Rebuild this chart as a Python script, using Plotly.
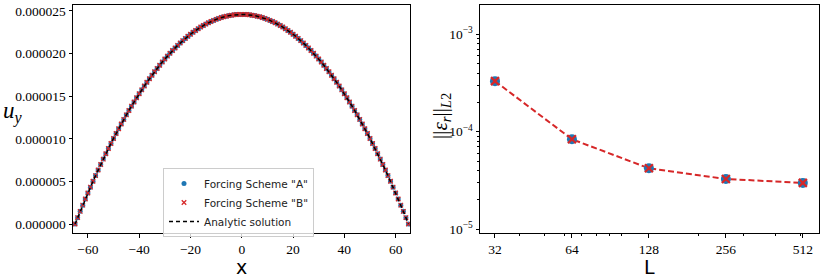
import plotly.graph_objects as go

# ---------------- Left panel data (velocity profile) ----------------
x_nodes = [-65, -64, -63, -62, -61, -60, -59, -58, -57, -56, -55, -54, -53, -52, -51, -50,
           -49, -48, -47, -46, -45, -44, -43, -42, -41, -40, -39, -38, -37, -36, -35, -34,
           -33, -32, -31, -30, -29, -28, -27, -26, -25, -24, -23, -22, -21, -20, -19, -18,
           -17, -16, -15, -14, -13, -12, -11, -10, -9, -8, -7, -6, -5, -4, -3, -2, -1, 0,
           1, 2, 3, 4, 5, 6, 7, 8, 9, 10, 11, 12, 13, 14, 15, 16, 17, 18, 19, 20, 21, 22,
           23, 24, 25, 26, 27, 28, 29, 30, 31, 32, 33, 34, 35, 36, 37, 38, 39, 40, 41, 42,
           43, 44, 45, 46, 47, 48, 49, 50, 51, 52, 53, 54, 55, 56, 57, 58, 59, 60, 61, 62,
           63, 64, 65]

# u_y values, in units of 1e-6
uy_micro = [0.0, 0.751, 1.491, 2.218, 2.934, 3.639, 4.332, 5.013, 5.683, 6.341, 6.987,
            7.622, 8.245, 8.856, 9.456, 10.044, 10.620, 11.185, 11.738, 12.280, 12.809,
            13.328, 13.834, 14.329, 14.812, 15.284, 15.744, 16.192, 16.629, 17.054, 17.467,
            17.869, 18.259, 18.638, 19.005, 19.360, 19.703, 20.035, 20.355, 20.664, 20.961,
            21.246, 21.520, 21.782, 22.032, 22.271, 22.498, 22.713, 22.917, 23.109, 23.290,
            23.459, 23.616, 23.762, 23.895, 24.018, 24.128, 24.227, 24.315, 24.390, 24.454,
            24.507, 24.548, 24.577, 24.594, 24.600,
            24.594, 24.577, 24.548, 24.507, 24.454, 24.390, 24.315, 24.227, 24.128, 24.018,
            23.895, 23.762, 23.616, 23.459, 23.290, 23.109, 22.917, 22.713, 22.498, 22.271,
            22.032, 21.782, 21.520, 21.246, 20.961, 20.664, 20.355, 20.035, 19.703, 19.360,
            19.005, 18.638, 18.259, 17.869, 17.467, 17.054, 16.629, 16.192, 15.744, 15.284,
            14.812, 14.329, 13.834, 13.328, 12.809, 12.280, 11.738, 11.185, 10.620, 10.044,
            9.456, 8.856, 8.245, 7.622, 6.987, 6.341, 5.683, 5.013, 4.332, 3.639, 2.934,
            2.218, 1.491, 0.751, 0.0]

uy_A = [v * 1e-6 for v in uy_micro]
uy_B = [v * 1e-6 for v in uy_micro]
uy_analytic = [v * 1e-6 for v in uy_micro]

left_yticks = [0, 0.000005, 0.00001, 0.000015, 0.00002, 0.000025]
left_yticklabels = ["0.000000", "0.000005", "0.000010", "0.000015", "0.000020", "0.000025"]
left_xticks = [-60, -40, -20, 0, 20, 40, 60]
left_xticklabels = ["−60", "−40", "−20", "0", "20", "40", "60"]

# ---------------- Right panel data (convergence) ----------------
L_vals = [32, 64, 128, 256, 512]
err_A = [3.30e-4, 8.36e-5, 4.21e-5, 3.27e-5, 2.98e-5]
err_B = [3.30e-4, 8.36e-5, 4.21e-5, 3.27e-5, 2.98e-5]
right_xticklabels = ["32", "64", "128", "256", "512"]
right_yticks = [1e-5, 1e-4, 1e-3]
right_yticklabels = ["10<sup>−5</sup>", "10<sup>−4</sup>", "10<sup>−3</sup>"]
right_xminor = [40, 50, 60, 70, 80, 90, 100, 200, 300, 400, 500]
right_yminor = [2e-5, 3e-5, 4e-5, 5e-5, 6e-5, 7e-5, 8e-5, 9e-5,
                2e-4, 3e-4, 4e-4, 5e-4, 6e-4, 7e-4, 8e-4, 9e-4]

BLUE = "#1f77b4"
RED = "#d62728"
SERIF = "Liberation Serif, Times New Roman, serif"
SANS = "DejaVu Sans"

fig = go.Figure()

fig.add_trace(go.Scatter(x=x_nodes, y=uy_A, mode="markers", name='Forcing Scheme "A"',
                         marker=dict(color=BLUE, size=5, symbol="circle"),
                         xaxis="x", yaxis="y"))
fig.add_trace(go.Scatter(x=x_nodes, y=uy_B, mode="markers", name='Forcing Scheme "B"',
                         marker=dict(color=RED, size=4.5, symbol="x-thin",
                                     line=dict(color=RED, width=1.3)),
                         xaxis="x", yaxis="y"))
fig.add_trace(go.Scatter(x=x_nodes, y=uy_analytic, mode="lines", name="Analytic solution",
                         line=dict(color="black", width=1.5, dash="4px,3px"),
                         xaxis="x", yaxis="y"))

fig.add_trace(go.Scatter(x=L_vals, y=err_A, mode="lines+markers", showlegend=False,
                         line=dict(color=RED, width=2, dash="6px,3px"),
                         marker=dict(color=BLUE, size=10, symbol="circle"),
                         xaxis="x2", yaxis="y2"))
fig.add_trace(go.Scatter(x=L_vals, y=err_B, mode="markers", showlegend=False,
                         marker=dict(color=RED, size=8, symbol="x-thin",
                                     line=dict(color=RED, width=2.2)),
                         xaxis="x2", yaxis="y2"))

W, H = 823, 280
lx0, lx1 = 73 / W, 410 / W
rx0, rx1 = 480 / W, 819 / W
yb, yt = (H - 233) / H, (H - 5) / H

axis_common = dict(showline=True, linecolor="black", linewidth=1, mirror=True,
                   ticks="outside", ticklen=3.5, tickwidth=1, tickcolor="black",
                   showgrid=False, zeroline=False, automargin=False,
                   tickfont=dict(family=SERIF, size=13.5, color="black"))

fig.update_layout(
    width=W, height=H,
    margin=dict(l=0, r=0, t=0, b=0, autoexpand=False),
    paper_bgcolor="white", plot_bgcolor="white",
    xaxis=dict(domain=[lx0, lx1], range=[-65.8, 65.6], tickmode="array",
               tickvals=left_xticks, ticktext=left_xticklabels, anchor="y", **axis_common),
    yaxis=dict(domain=[yb, yt], range=[-0.00000105, 0.0000257], tickmode="array",
               tickvals=left_yticks, ticktext=left_yticklabels, anchor="x", **axis_common),
    xaxis2=dict(domain=[rx0, rx1], type="log", range=[1.4465, 2.7725], tickmode="array",
                tickvals=L_vals, ticktext=right_xticklabels, anchor="y2",
                minor=dict(tickmode="array", tickvals=right_xminor, ticks="outside",
                           ticklen=2, tickwidth=0.8, tickcolor="black"),
                **axis_common),
    yaxis2=dict(domain=[yb, yt], type="log", range=[-5.04, -2.70], tickmode="array",
                tickvals=right_yticks, ticktext=right_yticklabels, anchor="x2",
                minor=dict(tickmode="array", tickvals=right_yminor, ticks="outside",
                           ticklen=2, tickwidth=0.8, tickcolor="black"),
                **axis_common),
    legend=dict(x=163 / W, y=(H - 168) / H, xanchor="left", yanchor="top",
                bgcolor="rgba(255,255,255,0.8)", bordercolor="#cccccc", borderwidth=1,
                font=dict(family=SANS, size=10.5, color="#222"),
                tracegroupgap=0, itemwidth=30),
    showlegend=True,
)

annotations = [
    dict(text="x", x=(lx0 + lx1) / 2, y=0, xref="paper", yref="paper",
         xanchor="center", yanchor="bottom", yshift=0, showarrow=False,
         font=dict(family=SANS, size=19, color="black")),
    dict(text="L", x=(rx0 + rx1) / 2, y=0, xref="paper", yref="paper",
         xanchor="center", yanchor="bottom", yshift=0, showarrow=False,
         font=dict(family=SANS, size=19, color="black")),
    dict(text="<i>u</i><sub><i>y</i></sub>", x=1 / W, y=(H - 112) / H, xref="paper", yref="paper",
         xanchor="left", yanchor="middle", showarrow=False,
         font=dict(family=SERIF, size=23, color="black")),
    dict(text="||<i>ε<sub>r</sub></i>||<sub><i>L</i>2</sub>", x=441 / W, y=(H - 116) / H,
         xref="paper", yref="paper", xanchor="center", yanchor="middle", textangle=-90,
         showarrow=False, font=dict(family=SERIF, size=21, color="black")),
]
fig.update_layout(annotations=annotations)

fig.write_html("out.html",
               config={"displayModeBar": False},
               post_script="document.body.style.margin='0';document.body.style.padding='0';")
